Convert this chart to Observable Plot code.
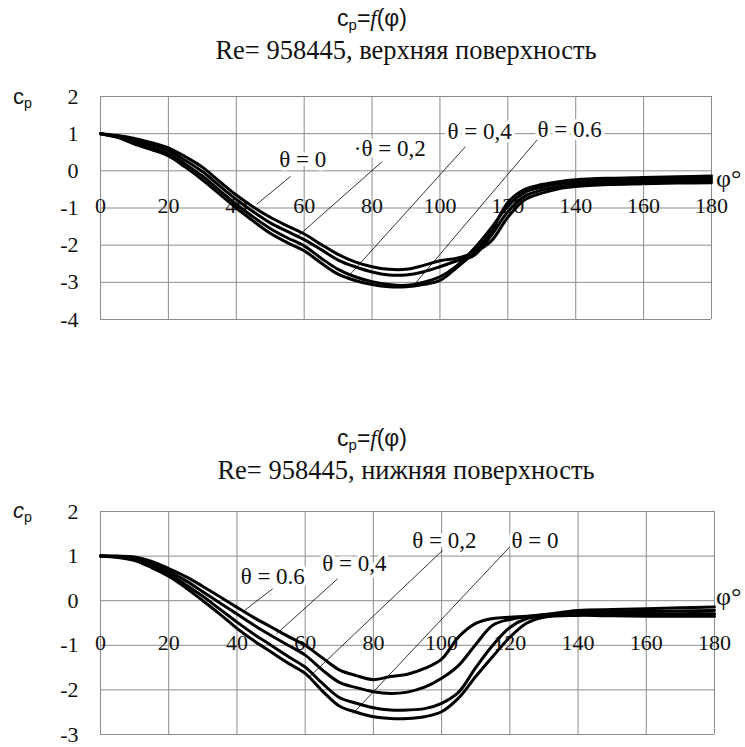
<!DOCTYPE html>
<html><head><meta charset="utf-8">
<script src="https://cdn.jsdelivr.net/npm/d3@7"></script>
<script src="https://cdn.jsdelivr.net/npm/@observablehq/plot@0.6"></script>
<style>
body{margin:0;background:#fff;}
#wrap{position:relative;width:745px;height:747px;overflow:hidden;background:#fff;}
.abs{position:absolute;white-space:nowrap;line-height:1;color:#111;}
.f1{font-family:"Liberation Sans",Arial,sans-serif;font-size:23px;transform:translateX(-50%);}
.f1 i{font-family:"Liberation Serif","Times New Roman","DejaVu Serif","Noto Serif",serif;}
.f2{font-family:"Liberation Serif","Times New Roman","DejaVu Serif","Noto Serif",serif;font-size:26.5px;transform:translateX(-50%);}
.cp{font-family:"Liberation Sans",Arial,sans-serif;font-size:22px;}
.phi{font-family:"Liberation Serif","Times New Roman","DejaVu Serif","Noto Serif",serif;font-size:26px;}
sub{font-size:65%;vertical-align:-0.25em;}
svg{position:absolute;left:0;}
</style></head>
<body><div id="wrap">
<div class="abs f1" style="left:372px;top:7px">c<sub>p</sub>=<i>f</i>(φ)</div>
<div class="abs f2" style="left:406px;top:37px">Re= 958445, верхняя поверхность</div>
<div class="abs cp" style="left:13px;top:86px">c<sub>p</sub></div>
<div class="abs phi" style="left:716px;top:166px">φ°</div>
<div class="abs f1" style="left:372px;top:427px">c<sub>p</sub>=<i>f</i>(φ)</div>
<div class="abs f2" style="left:406px;top:457px">Re= 958445, нижняя поверхность</div>
<div class="abs cp" style="left:13px;top:500px"><i>c</i><sub>p</sub></div>
<div class="abs phi" style="left:716px;top:584px">φ°</div>
</div>
<script>
// ---------- data ----------
const xTicks = [0,20,40,60,80,100,120,140,160,180];
const yTicksTop = [2,1,0,-1,-2,-3,-4];
const yTicksBottom = [2,1,0,-1,-2,-3];

const phiTop = [0,5,10,15,20,25,30,35,40,45,50,55,60,65,70,75,80,85,90,95,100,105,110,115,120,125,130,135,140,150,160,170,180];
const topTheta0  = [1.0,0.95,0.87,0.76,0.62,0.38,0.10,-0.28,-0.65,-0.97,-1.25,-1.48,-1.70,-1.98,-2.25,-2.45,-2.58,-2.65,-2.65,-2.55,-2.42,-2.35,-2.20,-1.90,-1.25,-0.78,-0.60,-0.48,-0.42,-0.37,-0.35,-0.33,-0.32];
const topTheta02 = [1.0,0.93,0.82,0.70,0.55,0.28,-0.02,-0.40,-0.77,-1.10,-1.40,-1.63,-1.85,-2.12,-2.40,-2.58,-2.72,-2.80,-2.80,-2.72,-2.58,-2.42,-2.28,-1.75,-1.10,-0.68,-0.52,-0.42,-0.36,-0.31,-0.29,-0.27,-0.26];
const topTheta04 = [1.0,0.91,0.77,0.63,0.47,0.18,-0.14,-0.52,-0.90,-1.24,-1.55,-1.80,-2.02,-2.35,-2.65,-2.85,-2.98,-3.06,-3.08,-3.00,-2.85,-2.55,-2.10,-1.55,-0.95,-0.58,-0.44,-0.35,-0.30,-0.25,-0.23,-0.21,-0.20];
const topTheta06 = [1.0,0.90,0.72,0.57,0.40,0.10,-0.24,-0.62,-1.00,-1.35,-1.68,-1.93,-2.15,-2.48,-2.78,-2.95,-3.06,-3.12,-3.12,-3.06,-2.95,-2.60,-2.20,-1.65,-0.85,-0.50,-0.37,-0.29,-0.24,-0.20,-0.18,-0.16,-0.14];

const phiBottom = [0,5,10,15,20,25,30,35,40,45,50,55,60,65,70,75,80,85,90,95,100,105,110,115,120,125,130,140,150,160,170,180];
const botTheta06 = [1.0,1.00,0.98,0.88,0.72,0.54,0.32,0.09,-0.15,-0.38,-0.59,-0.80,-1.00,-1.28,-1.55,-1.68,-1.77,-1.70,-1.65,-1.52,-1.31,-0.81,-0.51,-0.40,-0.37,-0.35,-0.31,-0.22,-0.20,-0.18,-0.16,-0.14];
const botTheta04 = [1.0,0.99,0.96,0.83,0.66,0.45,0.20,-0.05,-0.30,-0.55,-0.78,-1.00,-1.22,-1.55,-1.83,-1.95,-2.04,-2.08,-2.05,-1.94,-1.74,-1.45,-0.98,-0.55,-0.42,-0.36,-0.32,-0.26,-0.25,-0.24,-0.23,-0.22];
const botTheta02 = [1.0,0.98,0.93,0.78,0.60,0.36,0.10,-0.19,-0.48,-0.75,-1.00,-1.25,-1.49,-1.85,-2.17,-2.30,-2.40,-2.45,-2.45,-2.42,-2.30,-2.05,-1.50,-1.00,-0.60,-0.40,-0.34,-0.30,-0.29,-0.30,-0.29,-0.29];
const botTheta0  = [1.0,0.97,0.90,0.74,0.55,0.29,0.00,-0.30,-0.62,-0.90,-1.15,-1.40,-1.63,-2.02,-2.36,-2.50,-2.60,-2.64,-2.64,-2.60,-2.49,-2.18,-1.70,-1.25,-0.82,-0.50,-0.37,-0.33,-0.34,-0.35,-0.35,-0.35];

// label annotations (text, text position, leader line from -> to)
const topLabels = ["θ = 0", "·θ = 0,2", "θ = 0,4", "θ = 0.6"];
const topLabelPhi = [59.6, 85.2, 111.7, 138.2];
const topLabelCp  = [0.30, 0.61, 1.06, 1.10];
const topLeadFrom = [[56,-0.15],[83,0.25],[107.5,0.65],[128.6,0.83]];
const topLeadTo   = [[46,-0.9],[58,-1.77],[73,-2.84],[93,-3.0]];

const botLabels = ["θ = 0.6", "θ = 0,4", "θ = 0,2", "θ = 0"];
const botLabelPhi = [50.5, 74.4, 100.8, 127.4];
const botLabelCp  = [0.53, 0.83, 1.35, 1.35];
const botLeadFrom = [[50.5,0.27],[69.5,0.49],[100.3,1.13],[119.9,1.2]];
const botLeadTo   = [[42.2,-0.22],[51.5,-0.75],[61.2,-1.71],[74,-2.53]];

// ---------- build tables ----------
function longTable(phi, series, names) {
  const rows = [];
  series.forEach((s, k) => s.forEach((v, i) => rows.push({phi: phi[i], cp: v, theta: names[k]})));
  return rows;
}
function labelTable(text, px, py, from, to) {
  return text.map((t, i) => ({t, x: px[i], y: py[i], x1: from[i][0], y1: from[i][1], x2: to[i][0], y2: to[i][1]}));
}
const topData = longTable(phiTop, [topTheta0, topTheta02, topTheta04, topTheta06], ["0","0.2","0.4","0.6"]);
const botData = longTable(phiBottom, [botTheta06, botTheta04, botTheta02, botTheta0], ["0.6","0.4","0.2","0"]);
const topLab = labelTable(topLabels, topLabelPhi, topLabelCp, topLeadFrom, topLeadTo);
const botLab = labelTable(botLabels, botLabelPhi, botLabelCp, botLeadFrom, botLeadTo);

const SERIF = "'Liberation Serif', 'Times New Roman', 'DejaVu Serif', 'Noto Serif', serif";

function chart({data, labels, yDomain, yTicks, height, marginTop, marginBottom, marginRight}) {
  return Plot.plot({
    width: 745, height, marginTop, marginBottom, marginLeft: 100, marginRight,
    x: {domain: [0, 180], axis: null},
    y: {domain: yDomain, axis: null},
    style: {fontFamily: SERIF, fontSize: "20px", background: "transparent", color: "#111"},
    marks: [
      Plot.ruleX(xTicks, {stroke: "#8c8c8c", strokeWidth: 1}),
      Plot.ruleY(yTicks, {stroke: "#8c8c8c", strokeWidth: 1}),
      Plot.axisY(yTicks, {tickSize: 0, tickPadding: 22, tickFormat: d => String(d), fontSize: 22, fill: "#111"}),
      Plot.text(xTicks, {x: d => d, y: -1, text: d => String(d), dy: -2, fontSize: 22, fill: "#111"}),
      Plot.line(data, {x: "phi", y: "cp", z: "theta", stroke: "#000", strokeWidth: 3, curve: "catmull-rom"}),
      Plot.link(labels, {x1: "x1", y1: "y1", x2: "x2", y2: "y2", stroke: "#000", strokeWidth: 0.8}),
      Plot.text(labels, {x: "x", y: "y", text: "t", fill: "#111", stroke: "white", strokeWidth: 7, fontSize: 23})
    ]
  });
}

const wrap = document.getElementById("wrap");
const c1 = chart({data: topData, labels: topLab, yDomain: [-4, 2], yTicks: yTicksTop, height: 340, marginTop: 96, marginBottom: 21, marginRight: 34});
c1.style.top = "0px";
wrap.insertBefore(c1, wrap.firstChild);
const c2 = chart({data: botData, labels: botLab, yDomain: [-3, 2], yTicks: yTicksBottom, height: 337, marginTop: 101, marginBottom: 13, marginRight: 31});
c2.style.top = "410px";
wrap.insertBefore(c2, wrap.firstChild);
</script>
</body></html>
